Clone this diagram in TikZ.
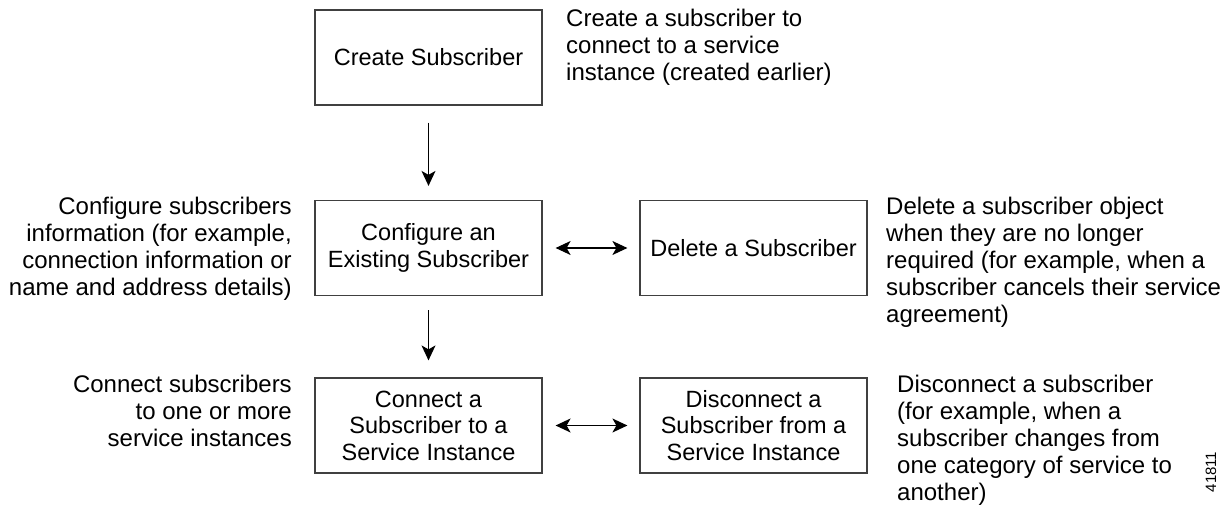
\documentclass[tikz,border=0pt]{standalone}
\usepackage{fontspec}
\setmainfont{Liberation Sans}
\usetikzlibrary{arrows.meta}
\begin{document}
\begin{tikzpicture}[x=1pt,y=-1pt,
  stepbox/.style={draw=black!75, line width=1.2pt, minimum width=227pt, minimum height=95pt, inner sep=2pt, align=center, font=\fontsize{23.5}{26.5}\selectfont},
  desc/.style={inner sep=0pt, font=\fontsize{24}{27}\selectfont},
  arr/.style={-{Stealth[length=15pt,width=14pt,inset=4pt]}, line width=1.2pt},
  darr/.style={{Stealth[length=15pt,width=14pt,inset=4pt]}-{Stealth[length=15pt,width=14pt,inset=4pt]}, line width=1.2pt}]
\useasboundingbox (0,0) rectangle (1225,508);
\node[stepbox] (create) at (428.5,57.5) {Create Subscriber};
\node[stepbox] (config) at (428.5,248) {Configure an\\Existing Subscriber};
\node[stepbox] (delete) at (753.5,248) {Delete a Subscriber};
\node[stepbox] (connect) at (428.5,425.5) {Connect a\\Subscriber to a\\Service Instance};
\node[stepbox] (disc) at (753.5,425.5) {Disconnect a\\Subscriber from a\\Service Instance};

\node[desc, anchor=north west, align=left] (tcreate) at (566,9) {Create a subscriber to\\connect to a service\\instance (created earlier)};
\node[desc, anchor=north east, align=right] (tconfig) at (292,197) {Configure subscribers\\information (for example,\\connection information or\\name and address details)};
\node[desc, anchor=north west, align=left] (tdelete) at (886,197) {Delete a subscriber object\\when they are no longer\\required (for example, when a\\subscriber cancels their service\\agreement)};
\node[desc, anchor=north east, align=right] (tconnect) at (292,375) {Connect subscribers\\to one or more\\service instances};
\node[desc, anchor=north west, align=left] (tdisc) at (897,375) {Disconnect a subscriber\\(for example, when a\\subscriber changes from\\one category of service to\\another)};
\node[rotate=90, inner sep=0pt, font=\fontsize{15}{17}\selectfont] (fig) at (1211,472) {41811};

\draw[arr, shorten <=17pt, shorten >=14pt] (create) -- (config);
\draw[arr, shorten <=14pt, shorten >=17pt] (config) -- (connect);
\draw[darr, shorten <=13pt, shorten >=12pt] (config) -- (delete);
\draw[darr, shorten <=13pt, shorten >=12pt] (connect) -- (disc);
\end{tikzpicture}
\end{document}
